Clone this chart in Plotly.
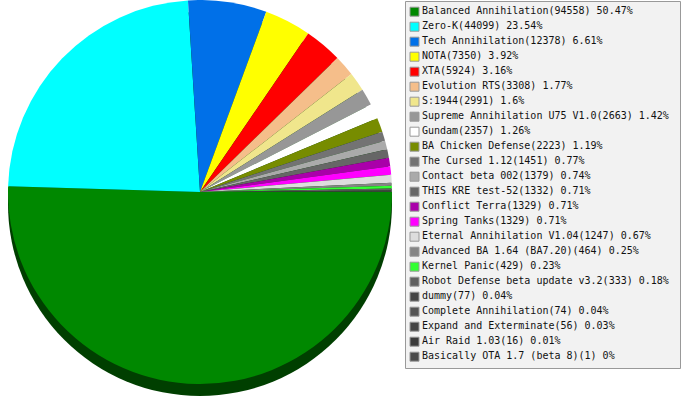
import plotly.graph_objects as go

names = ["Balanced Annihilation", "Zero-K", "Tech Annihilation", "NOTA", "XTA",
         "Evolution RTS", "S:1944", "Supreme Annihilation U75 V1.0", "Gundam",
         "BA Chicken Defense", "The Cursed 1.12", "Contact beta 002", "THIS KRE test-52",
         "Conflict Terra", "Spring Tanks", "Eternal Annihilation V1.04",
         "Advanced BA 1.64 (BA7.20)", "Kernel Panic", "Robot Defense beta update v3.2",
         "dummy", "Complete Annihilation", "Expand and Exterminate", "Air Raid 1.03",
         "Basically OTA 1.7 (beta 8)"]
counts = [94558, 44099, 12378, 7350, 5924, 3308, 2991, 2663, 2357, 2223, 1451, 1379,
          1332, 1329, 1329, 1247, 464, 429, 333, 77, 74, 56, 16, 1]
percents = ["50.47", "23.54", "6.61", "3.92", "3.16", "1.77", "1.6", "1.42", "1.26",
            "1.19", "0.77", "0.74", "0.71", "0.71", "0.71", "0.67", "0.25", "0.23",
            "0.18", "0.04", "0.04", "0.03", "0.01", "0"]
colors = ["#008800", "#00ffff", "#0070e8", "#ffff00", "#ff0000", "#f5be8a", "#f0e68c",
          "#979797", "#ffffff", "#778c00", "#737373", "#aaaaaa", "#666666", "#aa00aa",
          "#ff00ff", "#dddddd", "#858585", "#33ff33", "#5f5f5f", "#444444", "#555555",
          "#444444", "#3c3c3c", "#4a4a4a"]

labels = [f"{n}({c}) {p}%" for n, c, p in zip(names, counts, percents)]

W, H = 683, 400
fig = go.Figure()

# 3D-ish dark rim under the pie
cx, cy, r = 200, 192, 192
fig.add_shape(type="circle", xref="x", yref="y", x0=cx - r, x1=cx + r,
              y0=cy - r + 12, y1=cy + r + 12, fillcolor="#003f00",
              line=dict(width=0), layer="below")

fig.add_trace(go.Pie(
    labels=names, values=counts, marker=dict(colors=colors, line=dict(width=0)),
    sort=False, direction="clockwise", rotation=90, textinfo="none",
    hoverinfo="skip", showlegend=False,
    domain=dict(x=[0, 400 / W], y=[1 - 384 / H, 1.0]),
))

# legend box
fig.add_shape(type="rect", xref="x", yref="y", x0=405.5, x1=680.5, y0=1.5, y1=368.5,
              fillcolor="#f2f2f2", line=dict(color="#999999", width=1), layer="below")

ys = [11.7 + 15 * i for i in range(len(names))]
fig.add_trace(go.Scatter(
    x=[414.5] * len(names), y=ys, mode="markers",
    marker=dict(symbol="square", size=9, color=colors,
                line=dict(color="#999999", width=1)),
    hoverinfo="skip", showlegend=False,
))
fig.add_trace(go.Scatter(
    x=[422] * len(names), y=ys, mode="text", text=labels,
    textposition="middle right",
    textfont=dict(family="DejaVu Sans Mono", size=10, color="#111111"),
    hoverinfo="skip", showlegend=False,
))

fig.update_layout(
    width=W, height=H, margin=dict(l=0, r=0, t=0, b=0),
    paper_bgcolor="white", plot_bgcolor="rgba(0,0,0,0)",
    xaxis=dict(range=[0, W], visible=False, domain=[0, 1], fixedrange=True),
    yaxis=dict(range=[H, 0], visible=False, domain=[0, 1], fixedrange=True),
)

fig.write_html("out.html", config=dict(displayModeBar=False),
               post_script="document.body.style.margin='0';document.body.style.overflow='hidden';")
